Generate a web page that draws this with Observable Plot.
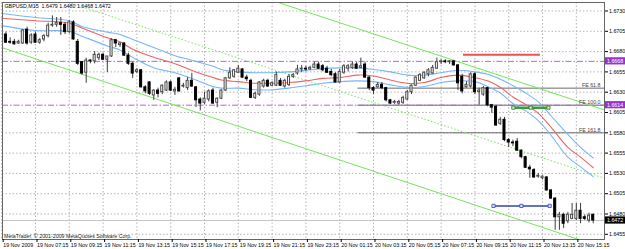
<!DOCTYPE html>
<html><head><meta charset="utf-8">
<script src="https://cdn.jsdelivr.net/npm/d3@7"></script>
<script src="https://cdn.jsdelivr.net/npm/@observablehq/plot@0.6"></script>
<style>
html,body{margin:0;padding:0;background:#fff;}
#chart{width:625px;height:249px;overflow:hidden}
</style></head><body><div id="chart"></div>
<script>
// ---- data (M15 bars, index 0 = 19 Nov 05:15) ----
const chartTitle = "GBPUSD,M15  1.6479 1.6480 1.6468 1.6472";
const copyright = "MetaTrader, © 2001-2009 MetaQuotes Software Corp.";

const open = [
1.6702,1.6701,1.6692,1.6692,1.6690,1.6690,1.6707,1.6691,1.6701,1.6691,
1.6695,1.6699,1.6712,1.6713,1.6715,1.6713,1.6704,1.6716,1.6692,1.6667,
1.6654,1.6669,1.6668,1.6672,1.6676,1.6670,1.6674,1.6694,1.6688,1.6690,
1.6675,1.6665,1.6655,1.6657,1.6636,1.6642,1.6626,1.6632,1.6630,1.6632,
1.6642,1.6631,1.6647,1.6637,1.6635,1.6644,1.6636,1.6621,1.6617,1.6621,
1.6632,1.6617,1.6622,1.6632,1.6647,1.6649,1.6654,1.6658,1.6648,1.6644,
1.6623,1.6627,1.6637,1.6644,1.6638,1.6638,1.6644,1.6637,1.6639,1.6649,
1.6653,1.6658,1.6659,1.6658,1.6660,1.6664,1.6662,1.6659,1.6655,1.6652,
1.6642,1.6654,1.6659,1.6660,1.6664,1.6660,1.6664,1.6648,1.6635,1.6636,
1.6639,1.6635,1.6620,1.6617,1.6616,1.6617,1.6621,1.6630,1.6638,1.6644,
1.6647,1.6652,1.6653,1.6659,1.6667,1.6668,1.6667,1.6668,1.6663,1.6649,
1.6636,1.6637,1.6652,1.6630,1.6627,1.6635,1.6614,1.6612,1.6591,1.6596,
1.6571,1.6568,1.6569,1.6558,1.6550,1.6537,1.6534,1.6526,1.6524,1.6525,
1.6509,1.6499,1.6476,1.6479,1.6471,1.6474,1.6474,1.6484,1.6476,1.6472,
1.6479];
const high = [
1.6705,1.6704,1.6697,1.6695,1.6694,1.6707,1.6710,1.6702,1.6704,1.6696,
1.6701,1.6715,1.6724,1.6722,1.6722,1.6716,1.6718,1.6718,1.6695,1.6668,
1.6672,1.6670,1.6680,1.6678,1.6678,1.6674,1.6696,1.6695,1.6691,1.6691,
1.6678,1.6667,1.6659,1.6658,1.6638,1.6643,1.6633,1.6635,1.6639,1.6644,
1.6644,1.6636,1.6648,1.6641,1.6648,1.6653,1.6637,1.6623,1.6630,1.6633,
1.6635,1.6623,1.6633,1.6648,1.6660,1.6658,1.6663,1.6659,1.6651,1.6646,
1.6630,1.6643,1.6646,1.6646,1.6643,1.6655,1.6647,1.6646,1.6652,1.6653,
1.6663,1.6663,1.6662,1.6662,1.6667,1.6667,1.6664,1.6662,1.6658,1.6654,
1.6658,1.6664,1.6664,1.6667,1.6667,1.6672,1.6667,1.6649,1.6637,1.6642,
1.6642,1.6636,1.6621,1.6620,1.6620,1.6625,1.6632,1.6639,1.6649,1.6653,
1.6655,1.6659,1.6663,1.6672,1.6670,1.6670,1.6669,1.6669,1.6664,1.6652,
1.6643,1.6654,1.6654,1.6635,1.6637,1.6636,1.6615,1.6614,1.6599,1.6599,
1.6573,1.6571,1.6573,1.6559,1.6551,1.6540,1.6536,1.6530,1.6527,1.6526,
1.6510,1.6500,1.6482,1.6481,1.6482,1.6493,1.6493,1.6493,1.6479,1.6481,
1.6480];
const low = [
1.6694,1.6690,1.6689,1.6688,1.6689,1.6689,1.6688,1.6689,1.6690,1.6689,
1.6692,1.6697,1.6710,1.6710,1.6700,1.6701,1.6702,1.6694,1.6663,1.6651,
1.6641,1.6665,1.6665,1.6669,1.6669,1.6654,1.6673,1.6685,1.6685,1.6674,
1.6663,1.6647,1.6653,1.6635,1.6628,1.6626,1.6620,1.6623,1.6627,1.6631,
1.6631,1.6626,1.6630,1.6635,1.6632,1.6636,1.6611,1.6607,1.6615,1.6618,
1.6615,1.6611,1.6621,1.6631,1.6646,1.6647,1.6653,1.6647,1.6643,1.6622,
1.6621,1.6625,1.6635,1.6636,1.6637,1.6637,1.6637,1.6635,1.6637,1.6647,
1.6651,1.6654,1.6655,1.6657,1.6659,1.6658,1.6655,1.6653,1.6649,1.6641,
1.6641,1.6652,1.6655,1.6658,1.6658,1.6659,1.6647,1.6632,1.6627,1.6635,
1.6633,1.6618,1.6615,1.6615,1.6614,1.6615,1.6620,1.6627,1.6637,1.6643,
1.6646,1.6649,1.6652,1.6658,1.6664,1.6665,1.6664,1.6662,1.6632,1.6628,
1.6635,1.6635,1.6627,1.6614,1.6625,1.6612,1.6604,1.6588,1.6589,1.6569,
1.6562,1.6563,1.6557,1.6548,1.6536,1.6524,1.6524,1.6524,1.6522,1.6508,
1.6498,1.6460,1.6460,1.6462,1.6468,1.6473,1.6472,1.6468,1.6472,1.6469,
1.6468];
const close = [
1.6695,1.6691,1.6691,1.6689,1.6692,1.6706,1.6690,1.6700,1.6691,1.6694,
1.6699,1.6712,1.6713,1.6715,1.6713,1.6704,1.6716,1.6695,1.6665,1.6653,
1.6669,1.6668,1.6676,1.6676,1.6670,1.6674,1.6694,1.6690,1.6690,1.6675,
1.6665,1.6653,1.6657,1.6636,1.6631,1.6628,1.6632,1.6628,1.6638,1.6642,
1.6632,1.6633,1.6631,1.6638,1.6644,1.6637,1.6620,1.6616,1.6622,1.6631,
1.6616,1.6622,1.6632,1.6647,1.6654,1.6657,1.6659,1.6648,1.6646,1.6623,
1.6628,1.6642,1.6644,1.6637,1.6641,1.6651,1.6638,1.6644,1.6649,1.6651,
1.6658,1.6659,1.6658,1.6660,1.6664,1.6659,1.6657,1.6654,1.6651,1.6642,
1.6655,1.6662,1.6662,1.6664,1.6659,1.6662,1.6648,1.6635,1.6632,1.6639,
1.6635,1.6620,1.6616,1.6618,1.6618,1.6623,1.6630,1.6638,1.6648,1.6651,
1.6654,1.6657,1.6660,1.6667,1.6668,1.6667,1.6668,1.6663,1.6641,1.6631,
1.6639,1.6652,1.6630,1.6632,1.6635,1.6614,1.6611,1.6589,1.6596,1.6571,
1.6568,1.6567,1.6558,1.6550,1.6537,1.6535,1.6525,1.6527,1.6526,1.6509,
1.6499,1.6476,1.6479,1.6468,1.6479,1.6479,1.6484,1.6474,1.6474,1.6478,
1.6472];

// moving average (red) and envelope (blue) lines, read at these bars
const maBars  = [0,8,16,19,25,28,31,36,41,46,50,52,56,60,64,68,72,76,80,84,88,92,96,100,104,108,112,115,118,121,124,127,130,134,137,140];
const maMid   = [1.6721,1.6718,1.6715,1.6709,1.6697,1.6692,1.6683,1.6673,1.6665,1.6655,1.6648,1.6645,1.6643,1.6641,1.6641,1.6642,1.6644,1.6647,1.6648,1.6651,1.6650,1.6645,1.6641,1.6642,1.6648,1.6651,1.6648,1.6644,1.6636,1.6624,1.6615,1.6604,1.6587,1.6562,1.6550,1.6537];
const maUpper = [1.6727,1.6722,1.6718,1.6711,1.6704,1.6701,1.6695,1.6685,1.6675,1.6668,1.6662,1.6658,1.6655,1.6654,1.6654,1.6655,1.6657,1.6659,1.6660,1.6660,1.6658,1.6655,1.6651,1.6651,1.6654,1.6657,1.6655,1.6652,1.6646,1.6638,1.6629,1.6618,1.6601,1.6578,1.6562,1.6549];
const maLower = [1.6712,1.6706,1.6705,1.6699,1.6687,1.6682,1.6673,1.6660,1.6654,1.6645,1.6637,1.6635,1.6635,1.6633,1.6633,1.6635,1.6638,1.6641,1.6643,1.6644,1.6643,1.6639,1.6636,1.6637,1.6642,1.6644,1.6643,1.6637,1.6629,1.6616,1.6607,1.6595,1.6577,1.6550,1.6538,1.6526];

// price axis and time axis
const yTicks = [1.6455,1.6480,1.6505,1.6530,1.6555,1.6580,1.6605,1.6630,1.6655,1.6680,1.6705,1.6730];
const xTickBars = [0,8,16,24,32,40,48,56,64,72,80,88,96,104,112,120,128,136];
const xTickLabels = ["19 Nov 2009","19 Nov 07:15","19 Nov 09:15","19 Nov 11:15","19 Nov 13:15","19 Nov 15:15","19 Nov 17:15","19 Nov 19:15","19 Nov 21:15","19 Nov 23:15","20 Nov 01:15","20 Nov 03:15","20 Nov 05:15","20 Nov 07:15","20 Nov 09:15","20 Nov 11:15","20 Nov 13:15","20 Nov 15:15"];

// objects
const bidPrice = 1.6472;
const purpleLevels = [1.6668, 1.6614];
const feStartBar = 84.3;
const feLabels = ["FE 61.8","FE 100.0","FE 161.8"];
const fePrices = [1.6635, 1.6614, 1.6580];
const trendSolidBars = [[0, 142.7],[64, 142.7]];
const trendSolidPrices = [[1.6685, 1.6438],[1.6743, 1.6608]];
const trendDotBars = [15, 142.7];
const trendDotPrices = [1.6742, 1.6524];
const redSegBars = [109.3, 127.5];
const redSegPrice = 1.6676;
const greenSegBars = [121.1, 125.2, 129.4];
const greenSegPrice = 1.6611;
const blueSegBars = [116.4, 123.0, 129.7];
const blueSegPrice = 1.6490;
const priceBoxes = [1.6668, 1.6614, 1.6472];
const priceBoxColors = ["#9932cc", "#9932cc", "#000000"];

// ---- build ----
const candles = open.map((o, i) => ({i, open: o, high: high[i], low: low[i], close: close[i]}));
const bull = candles.filter(d => d.close >= d.open);
const bear = candles.filter(d => d.close < d.open);
const maRows = maBars.map((b, k) => ({bar: b, mid: maMid[k], up: maUpper[k], lo: maLower[k]}));
const xDomain = [0.19, 142.67];
const feRows = feLabels.map((l, k) => ({label: l, price: fePrices[k], from: feStartBar, to: xDomain[1]}));
const solidRows = trendSolidBars.map((b, k) => ({i1: b[0], i2: b[1], p1: trendSolidPrices[k][0], p2: trendSolidPrices[k][1]}));
const dotRows = [{i1: trendDotBars[0], i2: trendDotBars[1], p1: trendDotPrices[0], p2: trendDotPrices[1]}];
const redRows = [{from: redSegBars[0], to: redSegBars[1], price: redSegPrice}];
const greenPts = greenSegBars.map(b => ({bar: b, price: greenSegPrice}));
const bluePts = blueSegBars.map(b => ({bar: b, price: blueSegPrice}));
const labelByBar = new Map(xTickBars.map((b, k) => [b, xTickLabels[k]]));
const FONT = "'Liberation Sans', Arial, sans-serif";
const FS = 5.3;

const chart = Plot.plot({
  width: 625, height: 249,
  marginLeft: 2, marginRight: 21, marginTop: 2, marginBottom: 10,
  style: {background: "#fff", fontFamily: FONT, fontSize: FS + "px", color: "#000", overflow: "visible"},
  x: {domain: xDomain},
  y: {domain: [1.64486, 1.674047]},
  marks: [
    Plot.ruleY(yTicks, {stroke: "#b4b4b4", strokeDasharray: "1.5,2"}),
    Plot.ruleX(xTickBars, {stroke: "#b4b4b4", strokeDasharray: "1.5,2"}),
    Plot.ruleY([bidPrice], {stroke: "#c4c4c4"}),
    Plot.ruleY(feRows, {y: "price", x1: "from", x2: "to", stroke: "#6a6a6a"}),
    Plot.ruleY(purpleLevels, {stroke: "#b463dc", strokeDasharray: "6,2,1.5,2"}),
    Plot.link(solidRows, {x1: "i1", y1: "p1", x2: "i2", y2: "p2", stroke: "#70e858", clip: true}),
    Plot.link(dotRows, {x1: "i1", y1: "p1", x2: "i2", y2: "p2", stroke: "#70e858", strokeDasharray: "1.5,2", clip: true}),
    Plot.line(maRows, {x: "bar", y: "up", stroke: "#78b6f6", strokeWidth: 1.1, curve: "catmull-rom"}),
    Plot.line(maRows, {x: "bar", y: "lo", stroke: "#78b6f6", strokeWidth: 1.1, curve: "catmull-rom"}),
    Plot.line(maRows, {x: "bar", y: "mid", stroke: "#ec6464", strokeWidth: 1.1, curve: "catmull-rom"}),
    Plot.ruleX(candles, {x: "i", y1: "low", y2: "high", stroke: "#3c3c3c", clip: true}),
    Plot.rect(bull, {x1: d => d.i - 0.5, x2: d => d.i + 0.5, y1: "open", y2: "close", insetLeft: 1.1, insetRight: 1.1, fill: "#fff", stroke: "#4a4a4a", clip: true}),
    Plot.rect(bear, {x1: d => d.i - 0.5, x2: d => d.i + 0.5, y1: "open", y2: "close", insetLeft: 1.1, insetRight: 1.1, fill: "#000", stroke: "#000", clip: true}),
    Plot.ruleY(redRows, {y: "price", x1: "from", x2: "to", stroke: "#e45454", strokeWidth: 2}),
    Plot.line(greenPts, {x: "bar", y: "price", stroke: "#3c9c3c", strokeWidth: 2.5}),
    Plot.dot(greenPts, {x: "bar", y: "price", symbol: "square", r: 1.8, fill: "#d4f4cc", stroke: "#2a702a", strokeWidth: 0.8}),
    Plot.line(bluePts, {x: "bar", y: "price", stroke: "#3444b0", strokeWidth: 1.5}),
    Plot.dot(bluePts, {x: "bar", y: "price", symbol: "square", r: 1.8, fill: "#dde0ff", stroke: "#3444b0", strokeWidth: 0.8}),
    Plot.text(feRows, {y: "price", text: "label", frameAnchor: "right", textAnchor: "end", lineAnchor: "bottom", dx: -4, dy: -1, fill: "#444", fontSize: FS}),
    Plot.text([chartTitle], {text: d => d, frameAnchor: "top-left", textAnchor: "start", lineAnchor: "top", dx: 2, dy: 2, fill: "#000", fontSize: FS}),
    Plot.text([copyright], {text: d => d, frameAnchor: "bottom-left", textAnchor: "start", lineAnchor: "bottom", dx: 1.5, dy: -1.5, fill: "#222", fontSize: FS}),
    Plot.frame({stroke: "#666"}),
    Plot.axisY(yTicks, {anchor: "right", tickSize: 3, tickPadding: 1.5, tickFormat: d => d.toFixed(4), fontSize: FS}),
    Plot.axisX(xTickBars, {anchor: "bottom", tickSize: 3, tickPadding: 1, tickFormat: d => labelByBar.get(d), textAnchor: "start", dx: 1.5, fontSize: FS})
  ]
});
document.getElementById("chart").appendChild(chart);

// price label boxes on the right axis, placed with the chart's own scales
const xs = chart.scale("x"), ys = chart.scale("y");
const right = xs.range[1];
const totalW = +chart.getAttribute("width");
const g = d3.select(chart).append("g")
  .attr("font-family", FONT).attr("font-size", FS).attr("text-anchor", "start");
priceBoxes.forEach((p, k) => {
  const y = ys.apply(p);
  g.append("rect").attr("x", right + 1).attr("y", y - 3.6).attr("width", totalW - right - 1).attr("height", 7.2).attr("fill", priceBoxColors[k]);
  g.append("text").attr("x", right + 3).attr("y", y).attr("dy", "0.36em").attr("text-anchor", "start").attr("fill", "#fff").text(p.toFixed(4));
});
</script></body></html>
